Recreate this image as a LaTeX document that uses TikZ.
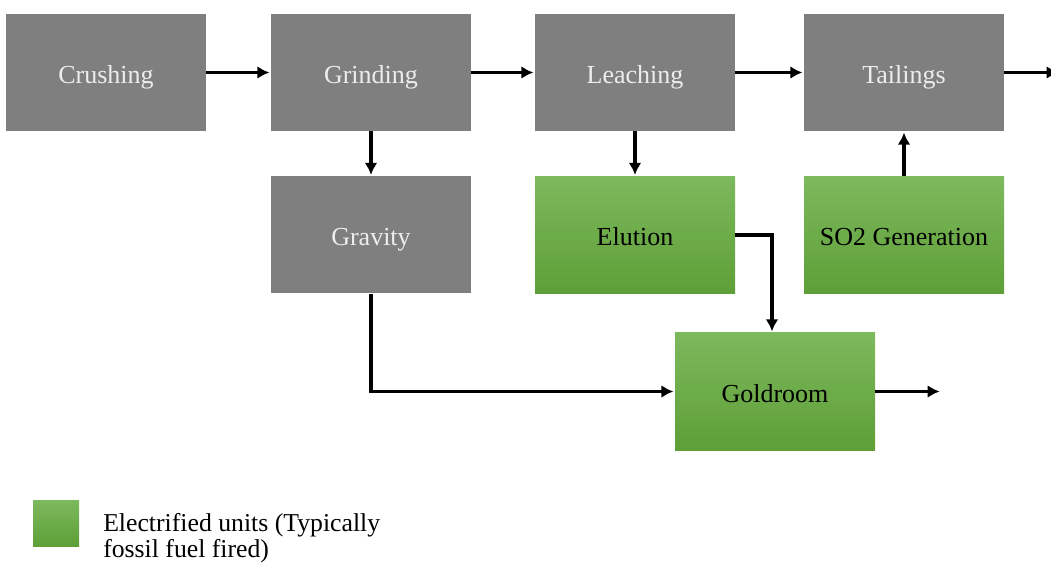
\documentclass[tikz,border=0pt]{standalone}
\usepackage{fontspec}
\setmainfont{Liberation Serif}
\usepackage{tikz}
\usetikzlibrary{arrows.meta}
\definecolor{boxgray}{HTML}{7F7F7F}
\definecolor{grntop}{HTML}{7DB95D}
\definecolor{grnbot}{HTML}{5E9F37}
\tikzset{gbox/.style={fill=boxgray,text=white!93!black,minimum width=150pt,minimum height=87.75pt,inner sep=0pt,text height=20pt,text depth=4pt,font=\fontsize{19.5}{21}\selectfont}}
\tikzset{ebox/.style={top color=grntop,bottom color=grnbot,text=black,minimum width=150pt,minimum height=87.75pt,inner sep=0pt,text height=20pt,text depth=4pt,font=\fontsize{19.5}{21}\selectfont}}
\tikzset{flow/.style={draw,line width=2.4pt,shorten >=1pt,-{Latex[length=9pt,width=9.5pt]}}}

\begin{document}
\begin{tikzpicture}[x=0.75pt,y=-0.75pt]
    \useasboundingbox (0,0) rectangle (1051,563);

    % main line
    \node[gbox] (crush) at (106,72.5) {Crushing};
    \node[gbox] (grind) at (371,72.5) {Grinding};
    \node[gbox] (leach) at (635,72.5) {Leaching};
    \node[gbox] (tail) at (904,72.5) {Tailings};
    \coordinate (tailout) at (1060,72.5);

    % second row
    \node[gbox] (grav) at (371,235) {Gravity};
    \node[ebox] (elut) at (635,235) {Elution};
    \node[ebox] (so2) at (904,235) {SO2 Generation};
    \node[ebox] (gold) at (775,391.5) {Goldroom};
    \coordinate (goldout) at (941,391.5);

    \draw[flow] (crush) -- (grind);
    \draw[flow] (grind) -- (leach);
    \draw[flow] (leach) -- (tail);
    \draw[flow] (tail) -- (tailout);
    \draw[flow] (grind) -- (grav);
    \draw[flow] (leach) -- (elut);
    \draw[flow] (so2) -- (tail);
    \draw[flow] (elut.east) -| ([xshift=-2.25pt]gold.north);
    \draw[flow] (grav.south) |- (gold.west);
    \draw[flow] (gold) -- (goldout);

    % legend
    \node[ebox,minimum width=34.5pt,minimum height=34.5pt] (legbox) at (56,523) {};
    \node[anchor=base west,align=left,inner sep=0pt,font=\fontsize{19.3}{19.5}\selectfont] (legtext) at (103,557)
      {Electrified units (Typically\\fossil fuel fired)};
\end{tikzpicture}
\end{document}
